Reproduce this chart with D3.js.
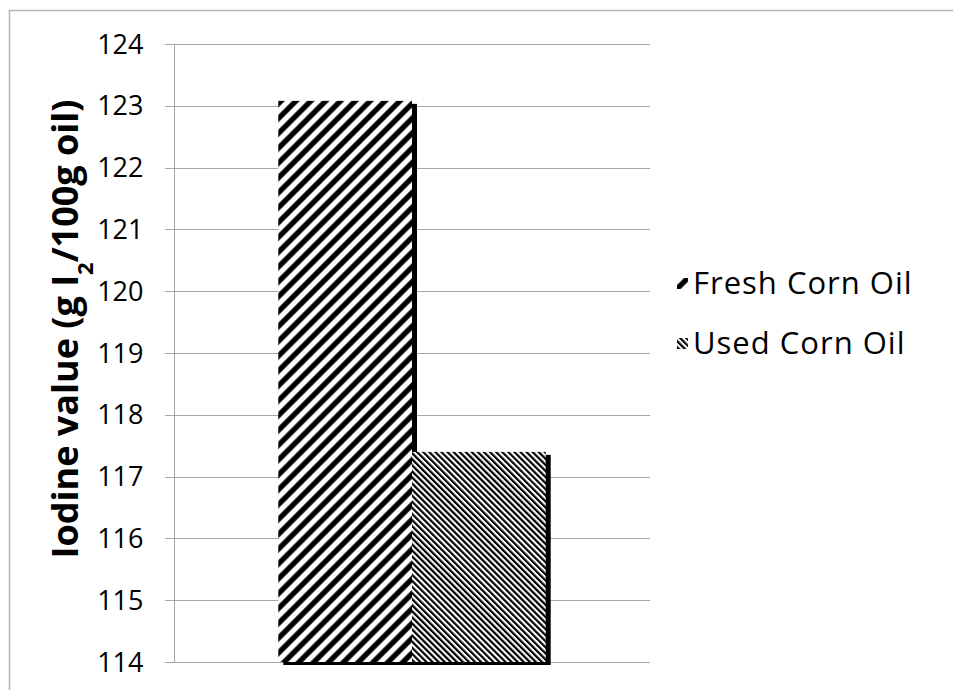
<!DOCTYPE html>
<html>
<head>
<meta charset="utf-8">
<script src="https://cdn.jsdelivr.net/npm/d3@7/dist/d3.min.js"></script>
<style>
  html, body { margin: 0; padding: 0; background: #fff; }
  svg { display: block; }
  text { font-family: "Open Sans", "Liberation Sans", sans-serif; fill: #000; }
</style>
</head>
<body>
<svg id="chart" width="953" height="690"></svg>
<script>
// Iodine value of fresh vs used corn oil
const categories = ["Corn Oil"];
const seriesNames = ["Fresh Corn Oil", "Used Corn Oil"];
const freshValues = [123.08];
const usedValues = [117.4];
const yTicks = [114, 115, 116, 117, 118, 119, 120, 121, 122, 123, 124];

const svg = d3.select("#chart");
const W = 953, H = 690;

// outer frame of the chart object
svg.append("rect")
  .attr("x", 9.5).attr("y", 10.5)
  .attr("width", W + 20).attr("height", H + 20)
  .attr("fill", "#fff").attr("stroke", "#b3b3b3").attr("stroke-width", 1.5);

// hatch fills
const defs = svg.append("defs");
function widePattern(id, transform) {
  const p = defs.append("pattern")
    .attr("id", id).attr("patternUnits", "userSpaceOnUse")
    .attr("width", 10.5).attr("height", 10.5)
    .attr("patternTransform", transform);
  p.append("rect").attr("width", 10.5).attr("height", 10.5).attr("fill", "#fff");
  p.append("rect").attr("x", 5).attr("width", 5.3).attr("height", 10.5).attr("fill", "#000");
}
widePattern("hatchWideUp", "rotate(45)");

const narrow = defs.append("pattern")
  .attr("id", "hatchNarrowDown").attr("patternUnits", "userSpaceOnUse")
  .attr("width", 4.3).attr("height", 4.3)
  .attr("patternTransform", "rotate(-45)");
narrow.append("rect").attr("width", 4.3).attr("height", 4.3).attr("fill", "#fff");
narrow.append("rect").attr("width", 2.2).attr("height", 4.3).attr("fill", "#000");

const fills = ["url(#hatchWideUp)", "url(#hatchNarrowDown)"];

const plot = { left: 174, right: 650, top: 44, bottom: 662 };

const y = d3.scaleLinear().domain([114, 124]).range([plot.bottom, plot.top]);
const x0 = d3.scaleBand().domain(categories)
  .range([plot.left, plot.right]).paddingInner(0).paddingOuter(0.39);
const x1 = d3.scaleBand().domain(seriesNames).range([0, x0.bandwidth()]);

// gridlines
svg.append("g")
  .selectAll("line").data(yTicks).join("line")
  .attr("x1", plot.left - 9).attr("x2", plot.right)
  .attr("y1", d => Math.round(y(d)) + 0.5).attr("y2", d => Math.round(y(d)) + 0.5)
  .attr("stroke", "#a6a6a6").attr("stroke-width", 1);

// value axis
const yAxis = d3.axisLeft(y).tickValues(yTicks).tickSize(0).tickPadding(0);
const gy = svg.append("g").attr("transform", `translate(${plot.left + 0.5},0)`).call(yAxis);
gy.select(".domain").attr("stroke", "#a6a6a6").attr("d", `M0,${plot.top}V${plot.bottom}`);
gy.selectAll("text")
  .attr("x", -31).attr("dy", "0.34em")
  .style("font-size", "27px").style("font-family", "'Open Sans', sans-serif")
  .attr("fill", "#000");

// bars with drop shadow
const series = [freshValues, usedValues];
const gBars = svg.append("g");
categories.forEach((c, ci) => {
  series.forEach((vals, si) => {
    const bx = x0(c) + x1(seriesNames[si]);
    const by = y(vals[ci]);
    const bw = x1.bandwidth();
    const bh = y(114) - by;
    gBars.append("rect")
      .attr("x", bx + 5).attr("y", by + 3)
      .attr("width", bw).attr("height", bh)
      .attr("fill", "#000");
    gBars.append("rect")
      .attr("x", bx).attr("y", by)
      .attr("width", bw).attr("height", bh)
      .attr("fill", fills[si]);
  });
});

// axis title
svg.append("text")
  .attr("transform", "translate(78,329) rotate(-90)")
  .attr("text-anchor", "middle")
  .style("font-size", "36px").style("font-weight", "bold")
  .call(t => {
    t.append("tspan").text("Iodine value (g I");
    t.append("tspan").attr("baseline-shift", "sub").style("font-size", "22px").text("2");
    t.append("tspan").text("/100g oil)");
  });

// legend
const legend = svg.append("g");
const legendX = 677, legendY0 = 283, legendStep = 60, swatch = 11;
widePattern("legendWideUp", `translate(${legendX},${legendY0 - 5}) rotate(45)`);
const legendFills = ["url(#legendWideUp)", fills[1]];
seriesNames.forEach((name, i) => {
  const ly = legendY0 + i * legendStep;
  legend.append("rect")
    .attr("x", legendX).attr("y", ly - 5).attr("width", swatch).attr("height", swatch)
    .attr("fill", legendFills[i]);
  legend.append("text")
    .attr("x", legendX + 16).attr("y", ly).attr("dy", "0.36em")
    .style("font-size", "31px").style("letter-spacing", "1px")
    .text(name);
});
</script>
</body>
</html>
